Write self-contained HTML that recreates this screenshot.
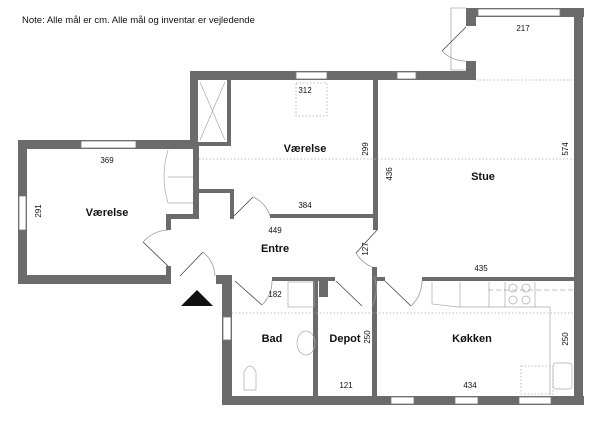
<!DOCTYPE html>
<html><head><meta charset="utf-8"><style>
html,body{margin:0;padding:0;background:#fff;}
svg{display:block;font-family:"Liberation Sans",sans-serif;}
</style></head><body>
<svg width="600" height="421" viewBox="0 0 600 421" xmlns="http://www.w3.org/2000/svg">
<rect width="600" height="421" fill="#fff"/>
<text x="22" y="23" font-size="9.5" fill="#111">Note: Alle mål er cm. Alle mål og inventar er vejledende</text>
<g fill="#6b6b6b">
<!-- top right block -->
<rect x="466" y="8" width="118" height="9"/>
<rect x="466" y="8" width="10" height="18"/>
<rect x="574" y="8" width="9" height="397"/>
<rect x="466" y="61" width="10" height="19"/>
<!-- middle top wall -->
<rect x="190" y="71" width="286" height="9"/>
<rect x="190" y="71" width="8" height="78"/>
<!-- left room -->
<rect x="18" y="140" width="180" height="9"/>
<rect x="18" y="140" width="9" height="144"/>
<rect x="18" y="275" width="153" height="9"/>
<rect x="166" y="266" width="5" height="10"/>
<!-- closet/inner walls -->
<rect x="227" y="80" width="4" height="65"/>
<rect x="198" y="142" width="33" height="4"/>
<rect x="193" y="146" width="6" height="72"/>
<rect x="166" y="214" width="33" height="5"/>
<rect x="166" y="214" width="5" height="16"/>
<rect x="199" y="189" width="33" height="4"/>
<rect x="230" y="189" width="4" height="30"/>
<rect x="270" y="214" width="108" height="4"/>
<rect x="373" y="80" width="5" height="150"/>
<!-- entry bottom -->
<rect x="216" y="275" width="16" height="9"/>
<rect x="222" y="275" width="10" height="130"/>
<rect x="272" y="277" width="63" height="4"/>
<rect x="313" y="277" width="5" height="119"/>
<rect x="319" y="277" width="9" height="20"/>
<rect x="372" y="267" width="5" height="129"/>
<rect x="377" y="277" width="8" height="4"/>
<rect x="422" y="277" width="155" height="4"/>
<!-- bottom wall -->
<rect x="222" y="396" width="362" height="9"/>
</g>
<!-- windows -->
<g fill="#fff" stroke="#777" stroke-width="0.8">
<rect x="478" y="9" width="82" height="7"/>
<rect x="296" y="72" width="31" height="7"/>
<rect x="397" y="72" width="19" height="7"/>
<rect x="81" y="141" width="55" height="7"/>
<rect x="19" y="196" width="7" height="34"/>
<rect x="223" y="317" width="8" height="23"/>
<rect x="391" y="397" width="23" height="7"/>
<rect x="455" y="397" width="23" height="7"/>
<rect x="519" y="397" width="32" height="7"/>
</g>
<!-- doors -->
<g fill="none" stroke="#444" stroke-width="0.8">
<path d="M466,8 L451,8 L451,70 L466,70" stroke="#aaa"/>
<line x1="466" y1="27" x2="442" y2="51"/>
<path d="M442,51 A34,34 0 0 0 466,61" stroke="#999"/>
<line x1="234" y1="216" x2="253" y2="197"/>
<path d="M253,197 A30,30 0 0 1 270,216" stroke="#999"/>
<line x1="168" y1="266" x2="143" y2="242"/>
<path d="M143,242 A36,36 0 0 1 168,230" stroke="#999"/>
<line x1="180" y1="276" x2="203" y2="252"/>
<path d="M203,252 A34,34 0 0 1 215,276" stroke="#999"/>
<line x1="235" y1="281" x2="262" y2="305"/>
<path d="M262,305 A34,34 0 0 0 272,281" stroke="#999"/>
<line x1="336" y1="281" x2="362" y2="306"/>
<line x1="377" y1="230" x2="356" y2="253"/>
<path d="M356,253 A34,34 0 0 0 372,267" stroke="#999"/>
<path d="M372,306 A36,36 0 0 0 374,276" stroke="#999"/>
<line x1="385" y1="281" x2="411" y2="306"/>
<path d="M411,306 A36,36 0 0 0 422,281" stroke="#999"/>
</g>
<!-- entry triangle -->
<polygon points="181,306 213,306 197,290" fill="#111"/>
<g stroke="#aaa" stroke-width="0.7" fill="none">
<line x1="200" y1="82" x2="225" y2="140"/><line x1="225" y1="82" x2="200" y2="140"/>
<path d="M168,150 Q160,176 168,203 L193,203"/>
<line x1="168" y1="177" x2="193" y2="177"/>
<rect x="288" y="282" width="26" height="25"/>
<ellipse cx="306" cy="343" rx="9" ry="12"/>
<path d="M244,390 L244,372 Q250,360 256,372 L256,390 Z"/>
<path d="M432,282 L432,304 L458,307 L550,307 L550,395"/>
<line x1="460" y1="282" x2="460" y2="307"/><line x1="489" y1="282" x2="489" y2="307"/>
<line x1="505" y1="282" x2="505" y2="307"/><line x1="535" y1="282" x2="535" y2="307"/>
<circle cx="513" cy="288" r="4"/><circle cx="526" cy="288" r="4"/><circle cx="513" cy="300" r="4"/><circle cx="526" cy="300" r="4"/>
<rect x="553" y="363" width="19" height="26" rx="3"/>
</g>
<!-- dotted dimension lines -->
<g stroke="#aaa" stroke-width="0.8" stroke-dasharray="1.5,2" fill="none">
<line x1="476" y1="80" x2="574" y2="80"/>
<line x1="199" y1="159" x2="574" y2="159"/>
<rect x="296" y="83" width="31" height="33"/>
<line x1="232" y1="313" x2="575" y2="313"/>
<line x1="488" y1="290" x2="575" y2="290" stroke-dasharray="5,3"/>
<rect x="521" y="366" width="32" height="28"/>
</g>
<!-- labels -->
<g font-size="8" fill="#111" text-anchor="middle">
<text x="523" y="31">217</text>
<text x="305" y="93">312</text>
<text x="107" y="163">369</text>
<text x="305" y="208">384</text>
<text x="275" y="233">449</text>
<text x="481" y="271">435</text>
<text x="275" y="297">182</text>
<text x="346" y="388">121</text>
<text x="470" y="388">434</text>
<text transform="translate(368,149) rotate(-90)">299</text>
<text transform="translate(392,174) rotate(-90)">436</text>
<text transform="translate(568,149) rotate(-90)">574</text>
<text transform="translate(41,211) rotate(-90)">291</text>
<text transform="translate(368,249) rotate(-90)">127</text>
<text transform="translate(370,337) rotate(-90)">250</text>
<text transform="translate(568,339) rotate(-90)">250</text>
</g>
<g font-size="11" font-weight="bold" fill="#111" text-anchor="middle">
<text x="305" y="152">Værelse</text>
<text x="483" y="180">Stue</text>
<text x="107" y="216">Værelse</text>
<text x="275" y="252">Entre</text>
<text x="272" y="342">Bad</text>
<text x="345" y="342">Depot</text>
<text x="472" y="342">Køkken</text>
</g>
</svg>
</body></html>
